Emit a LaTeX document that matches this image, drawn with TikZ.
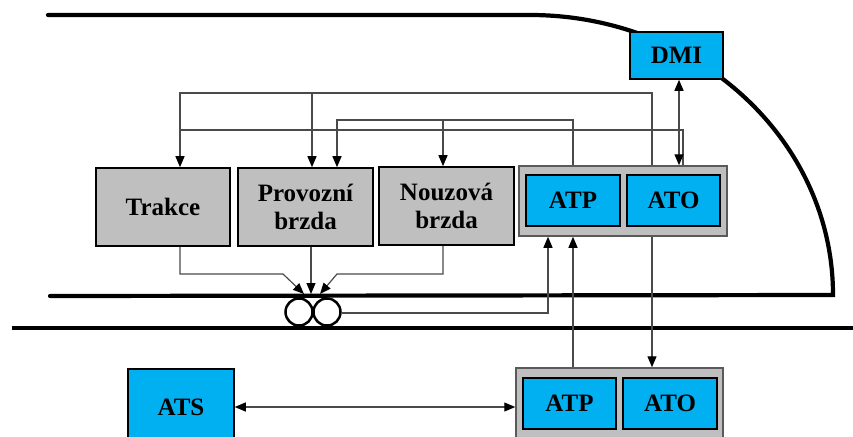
\documentclass[tikz,border=0pt]{standalone}
\usepackage{fontspec}
\setmainfont{Liberation Serif}
\usetikzlibrary{arrows.meta}
\definecolor{unitblue}{HTML}{00B0F0}
\definecolor{unitgray}{HTML}{BFBFBF}
\definecolor{framegray}{HTML}{5A5A5A}
\definecolor{wire}{HTML}{4A4A4A}
\begin{document}
\begin{tikzpicture}[x=1pt,y=-1pt,
  boxtext/.style={font=\fontsize{25}{28}\selectfont\bfseries, align=center, inner sep=0pt},
  actuator/.style={boxtext, draw=black, line width=1.6pt, fill=unitgray},
  unit/.style={boxtext, draw=black, line width=1.5pt, fill=unitblue},
  rack/.style={draw=framegray, line width=1.5pt, fill=unitgray, inner sep=0pt},
  body/.style={line width=4.2pt, line cap=round, black},
  rail/.style={line width=3.6pt, black},
  wheel/.style={circle, draw=black, line width=2.5pt, fill=white, minimum size=27pt, inner sep=0pt},
  sig/.style={draw=wire, line width=1.2pt},
  tip/.style={-{Triangle[length=11pt,width=9pt,color=black]}},
  tips/.style={{Triangle[length=11pt,width=9pt,color=black]}-{Triangle[length=11pt,width=9pt,color=black]}}
]
\useasboundingbox (0,0) rectangle (853,436);

% train body and track
\draw[body] (48,15) -- (530,15) arc[start angle=270, end angle=360, x radius=303, y radius=280] -- (50,296);
\draw[rail] (12,328) -- (853,328);

% on-board units
\node[actuator, minimum width=134pt, minimum height=78pt] (trakce) at (163,207) {Trakce};
\node[actuator, minimum width=135pt, minimum height=78pt] (provozni) at (305.5,207) {Provozní\\brzda};
\node[actuator, minimum width=135pt, minimum height=78pt] (nouzova) at (446.5,206) {Nouzová\\brzda};
\node[rack, minimum width=208pt, minimum height=70pt] (upper) at (623,201) {};
\node[unit, minimum width=94pt, minimum height=51pt] (atp1) at (573,200.5) {ATP};
\node[unit, minimum width=93pt, minimum height=51pt] (ato1) at (673.5,200.5) {ATO};
\node[unit, minimum width=93pt, minimum height=47pt] (dmi) at (676.5,55.5) {DMI};

% wayside units
\node[rack, minimum width=207pt, minimum height=72pt] (lower) at (619.5,404) {};
\node[unit, minimum width=93pt, minimum height=51pt] (atp2) at (569.5,403.5) {ATP};
\node[unit, minimum width=94pt, minimum height=51pt] (ato2) at (670,403.5) {ATO};
\node[unit, minimum width=106pt, minimum height=76pt] (ats) at (181,407) {ATS};

% wheelset
\node[wheel] (wheelL) at (299,312) {};
\node[wheel] (wheelR) at (327,312) {};

% routing points
\coordinate (busA) at (652,93);
\coordinate (busAL) at (180,93);
\coordinate (tapA) at (312,93);
\coordinate (busB) at (573,120);
\coordinate (busBL) at (337,120);
\coordinate (tapB) at (443,120);
\coordinate (busC) at (683,130);
\coordinate (busCL) at (180,130);
\coordinate (dmiX) at (679,0);
\coordinate (fbX) at (548,313);
\coordinate (jL) at (283,274);
\coordinate (jLo) at (180,274);
\coordinate (jR) at (337,274);
\coordinate (jRo) at (443,274);
\coordinate (hitL) at (304,294);
\coordinate (hitM) at (311,294);
\coordinate (hitR) at (320,294);
\coordinate (midX) at (573,0);
\coordinate (downX) at (652,0);

% commands from ATP/ATO to traction and brakes
\draw[sig,tip] (upper.north -| busA) -- (busA) -- (busAL) -- (trakce.north -| busAL);
\draw[sig,tip] (tapA) -- (provozni.north -| tapA);
\draw[sig,tip] (upper.north -| busB) -- (busB) -- (busBL) -- (provozni.north -| busBL);
\draw[sig,tip] (tapB) -- (nouzova.north -| tapB);
\draw[sig] (upper.north -| busC) -- (busC) -- (busCL);
\draw[sig,tips] (dmi.south -| dmiX) -- (upper.north -| dmiX);

% actuators acting on the wheelset
\draw[sig,tip] (trakce.south -| jLo) -- (jLo) -- (jL) -- (hitL);
\draw[sig,tip] (provozni.south -| hitM) -- (hitM);
\draw[sig,tip] (nouzova.south -| jRo) -- (jRo) -- (jR) -- (hitR);

% odometry feedback and trackside links
\draw[sig,tip] (wheelR.east |- fbX) -- (fbX) -- (upper.south -| fbX);
\draw[sig,tip] (lower.north -| midX) -- (upper.south -| midX);
\draw[sig,tip] (upper.south -| downX) -- (lower.north -| downX);
\draw[sig,tips] (ats.east) -- (ats.east -| lower.west);
\end{tikzpicture}
\end{document}
